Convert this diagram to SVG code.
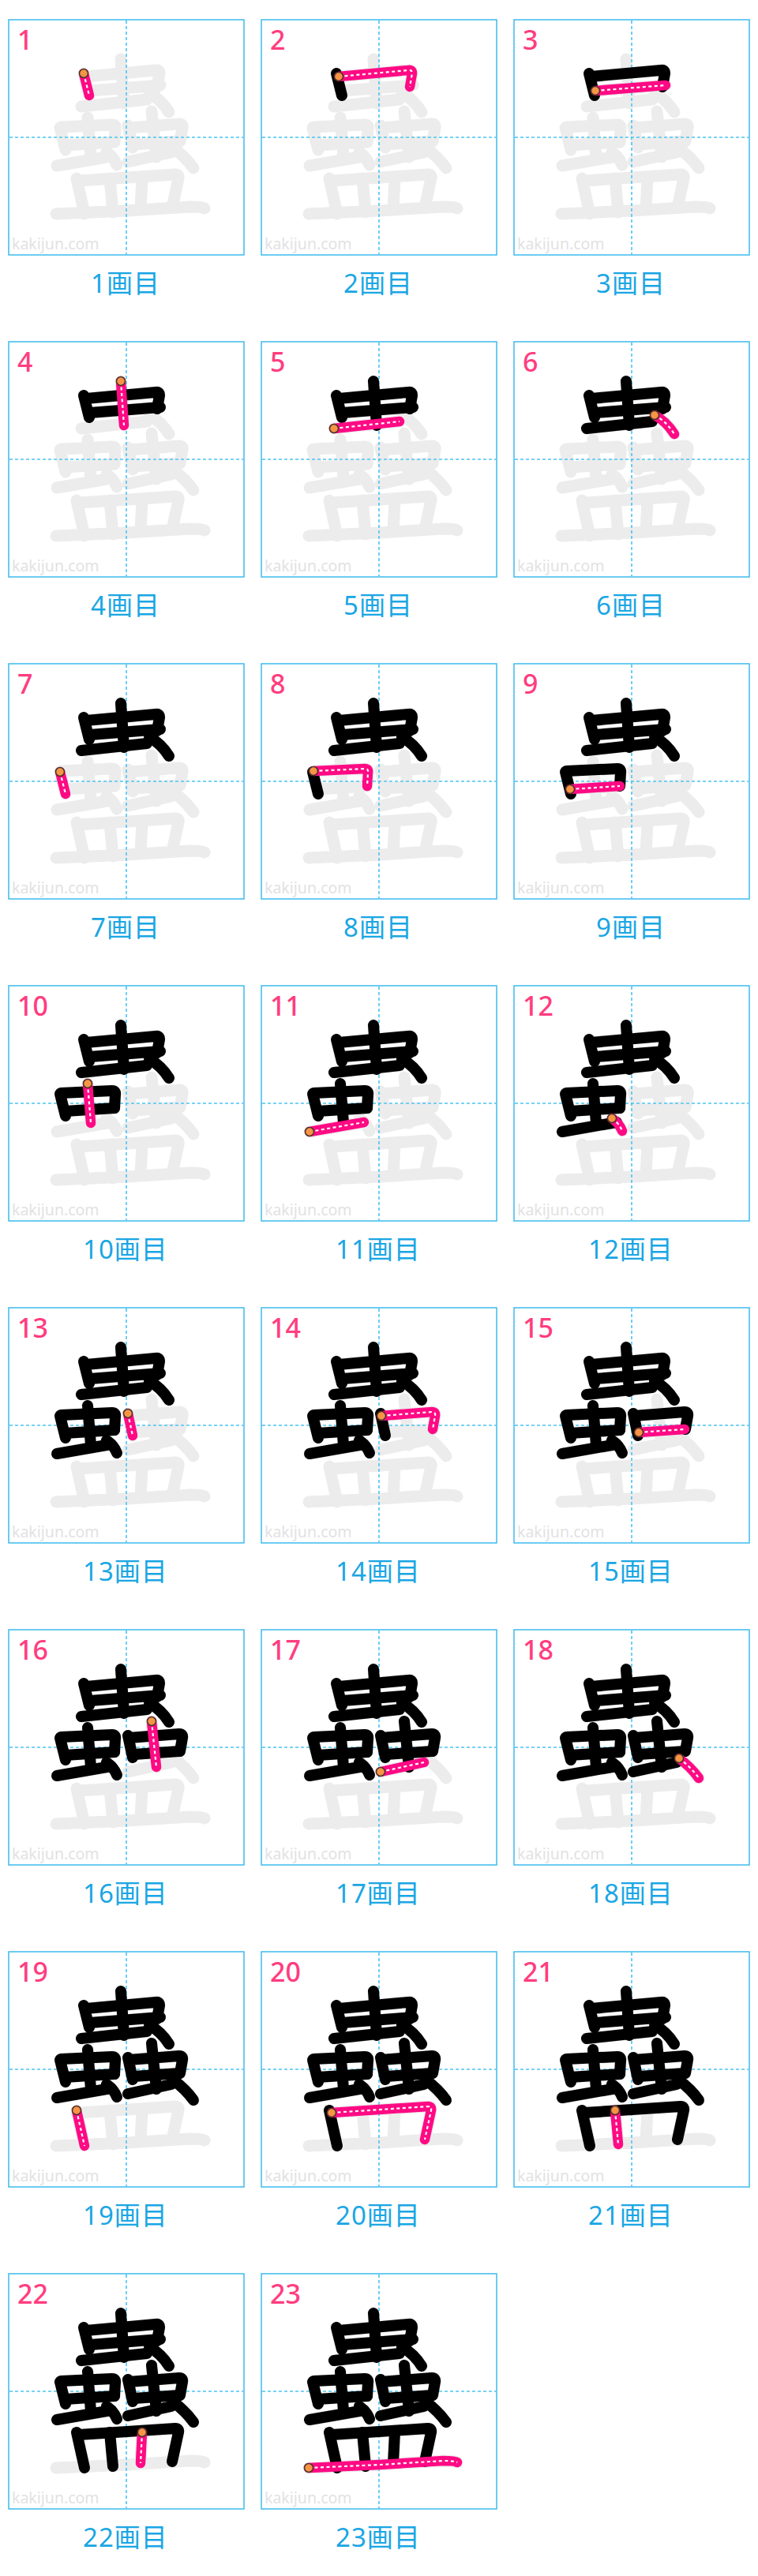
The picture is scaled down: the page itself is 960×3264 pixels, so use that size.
<svg xmlns="http://www.w3.org/2000/svg" xmlns:xlink="http://www.w3.org/1999/xlink" width="960" height="3264" viewBox="0 0 960 3264">
<style>
.fr{fill:none;stroke:#3dbbee;stroke-width:1.5}
.cl{stroke:#4cc3f2;stroke-width:1.6;stroke-dasharray:4 3}
.g{fill:none;stroke:#ececec;stroke-width:15;stroke-linecap:round;stroke-linejoin:round}
.k{fill:none;stroke:#000;stroke-width:14;stroke-linecap:round;stroke-linejoin:round}
.p{fill:none;stroke:#ff0a84;stroke-width:12.5;stroke-linecap:round;stroke-linejoin:round}
.d{fill:none;stroke:#fff;stroke-width:2.2;stroke-dasharray:4 3.5;stroke-linecap:butt;stroke-linejoin:round}
.dot{fill:#f79446;stroke:#4a3426;stroke-width:1.5}
.num{font-family:"Noto Sans","Liberation Sans",sans-serif;font-size:34px;font-weight:500;fill:#ff3d7f}
.wm{font-family:"Noto Sans","Liberation Sans",sans-serif;font-size:19.5px;fill:#e2e2e2}
.lb{font-family:"Noto Sans","Noto Sans CJK JP",sans-serif;font-size:33px;letter-spacing:1px;fill:#1aa6e4;text-anchor:middle}
</style>
<defs>
<g id="grid">
<rect x="0" y="0" width="298" height="298" class="fr"/>
<line x1="149" y1="1" x2="149" y2="297" class="cl"/>
<line x1="1" y1="149" x2="297" y2="149" class="cl"/>
</g>
<path id="s1" d="M95,68 L102,96"/>
<path id="s2" d="M98,72 L186,64 Q191,63 191,68 L188,85"/>
<path id="s3" d="M103,90 L192,83"/>
<path id="s4" d="M142,50 L146,106"/>
<path id="s5" d="M92,110 L175,101"/>
<path id="s6" d="M178,93 Q193,101 203,117"/>
<path id="s7" d="M65,137 L72,165"/>
<path id="s8" d="M66,136 L131,133 Q136,133 135,138 L134,155"/>
<path id="s9" d="M71,159 L134,155"/>
<path id="s10" d="M100,124 L104,174"/>
<path id="s11" d="M61,185 L130,173"/>
<path id="s12" d="M124,168 Q133,174 137,184"/>
<path id="s13" d="M151,134 L157,162"/>
<path id="s14" d="M152,137 L216,132 Q221,132 220,137 L217,154"/>
<path id="s15" d="M158,158 L216,154"/>
<path id="s16" d="M181,116 L187,174"/>
<path id="s17" d="M151,180 L206,168"/>
<path id="s18" d="M209,163 Q224,174 234,188"/>
<path id="s19" d="M86,201 L96,246"/>
<path id="s20" d="M89,204 L211,196 Q216,196 215,201 L207,238"/>
<path id="s21" d="M128,201 L132,244"/>
<path id="s22" d="M169,201 L167,240"/>
<path id="s23" d="M60,246 L150,242 L230,237 Q245,237 248,239"/>
<g id="c1"><use href="#s1"/></g>
<g id="c2"><use href="#c1"/><use href="#s2"/></g>
<g id="c3"><use href="#c2"/><use href="#s3"/></g>
<g id="c4"><use href="#c3"/><use href="#s4"/></g>
<g id="c5"><use href="#c4"/><use href="#s5"/></g>
<g id="c6"><use href="#c5"/><use href="#s6"/></g>
<g id="c7"><use href="#c6"/><use href="#s7"/></g>
<g id="c8"><use href="#c7"/><use href="#s8"/></g>
<g id="c9"><use href="#c8"/><use href="#s9"/></g>
<g id="c10"><use href="#c9"/><use href="#s10"/></g>
<g id="c11"><use href="#c10"/><use href="#s11"/></g>
<g id="c12"><use href="#c11"/><use href="#s12"/></g>
<g id="c13"><use href="#c12"/><use href="#s13"/></g>
<g id="c14"><use href="#c13"/><use href="#s14"/></g>
<g id="c15"><use href="#c14"/><use href="#s15"/></g>
<g id="c16"><use href="#c15"/><use href="#s16"/></g>
<g id="c17"><use href="#c16"/><use href="#s17"/></g>
<g id="c18"><use href="#c17"/><use href="#s18"/></g>
<g id="c19"><use href="#c18"/><use href="#s19"/></g>
<g id="c20"><use href="#c19"/><use href="#s20"/></g>
<g id="c21"><use href="#c20"/><use href="#s21"/></g>
<g id="c22"><use href="#c21"/><use href="#s22"/></g>
<g id="c23"><use href="#c22"/><use href="#s23"/></g>
<g id="base">
<rect x="0" y="0" width="298" height="298" fill="#fff"/>
<use href="#c23" class="g"/>
<use href="#grid"/>
<text x="4" y="291" class="wm">kakijun.com</text>
</g>
</defs>
<rect width="960" height="3264" fill="#fff"/>

<g id="step-1" transform="translate(11,25)"><use href="#base"/><use href="#s1" class="p"/><use href="#s1" class="d"/><circle cx="95" cy="68" r="5.5" class="dot"/><text x="11" y="38" class="num">1</text><text x="148" y="346" class="lb">1画目</text></g>
<g id="step-2" transform="translate(331,25)"><use href="#base"/><use href="#c1" class="k"/><use href="#s2" class="p"/><use href="#s2" class="d"/><circle cx="98" cy="72" r="5.5" class="dot"/><text x="11" y="38" class="num">2</text><text x="148" y="346" class="lb">2画目</text></g>
<g id="step-3" transform="translate(651,25)"><use href="#base"/><use href="#c2" class="k"/><use href="#s3" class="p"/><use href="#s3" class="d"/><circle cx="103" cy="90" r="5.5" class="dot"/><text x="11" y="38" class="num">3</text><text x="148" y="346" class="lb">3画目</text></g>

<g id="step-4" transform="translate(11,433)"><use href="#base"/><use href="#c3" class="k"/><use href="#s4" class="p"/><use href="#s4" class="d"/><circle cx="142" cy="50" r="5.5" class="dot"/><text x="11" y="38" class="num">4</text><text x="148" y="346" class="lb">4画目</text></g>
<g id="step-5" transform="translate(331,433)"><use href="#base"/><use href="#c4" class="k"/><use href="#s5" class="p"/><use href="#s5" class="d"/><circle cx="92" cy="110" r="5.5" class="dot"/><text x="11" y="38" class="num">5</text><text x="148" y="346" class="lb">5画目</text></g>
<g id="step-6" transform="translate(651,433)"><use href="#base"/><use href="#c5" class="k"/><use href="#s6" class="p"/><use href="#s6" class="d"/><circle cx="178" cy="93" r="5.5" class="dot"/><text x="11" y="38" class="num">6</text><text x="148" y="346" class="lb">6画目</text></g>

<g id="step-7" transform="translate(11,841)"><use href="#base"/><use href="#c6" class="k"/><use href="#s7" class="p"/><use href="#s7" class="d"/><circle cx="65" cy="137" r="5.5" class="dot"/><text x="11" y="38" class="num">7</text><text x="148" y="346" class="lb">7画目</text></g>
<g id="step-8" transform="translate(331,841)"><use href="#base"/><use href="#c7" class="k"/><use href="#s8" class="p"/><use href="#s8" class="d"/><circle cx="66" cy="136" r="5.5" class="dot"/><text x="11" y="38" class="num">8</text><text x="148" y="346" class="lb">8画目</text></g>
<g id="step-9" transform="translate(651,841)"><use href="#base"/><use href="#c8" class="k"/><use href="#s9" class="p"/><use href="#s9" class="d"/><circle cx="71" cy="159" r="5.5" class="dot"/><text x="11" y="38" class="num">9</text><text x="148" y="346" class="lb">9画目</text></g>

<g id="step-10" transform="translate(11,1249)"><use href="#base"/><use href="#c9" class="k"/><use href="#s10" class="p"/><use href="#s10" class="d"/><circle cx="100" cy="124" r="5.5" class="dot"/><text x="11" y="38" class="num">10</text><text x="148" y="346" class="lb">10画目</text></g>
<g id="step-11" transform="translate(331,1249)"><use href="#base"/><use href="#c10" class="k"/><use href="#s11" class="p"/><use href="#s11" class="d"/><circle cx="61" cy="185" r="5.5" class="dot"/><text x="11" y="38" class="num">11</text><text x="148" y="346" class="lb">11画目</text></g>
<g id="step-12" transform="translate(651,1249)"><use href="#base"/><use href="#c11" class="k"/><use href="#s12" class="p"/><use href="#s12" class="d"/><circle cx="124" cy="168" r="5.5" class="dot"/><text x="11" y="38" class="num">12</text><text x="148" y="346" class="lb">12画目</text></g>

<g id="step-13" transform="translate(11,1657)"><use href="#base"/><use href="#c12" class="k"/><use href="#s13" class="p"/><use href="#s13" class="d"/><circle cx="151" cy="134" r="5.5" class="dot"/><text x="11" y="38" class="num">13</text><text x="148" y="346" class="lb">13画目</text></g>
<g id="step-14" transform="translate(331,1657)"><use href="#base"/><use href="#c13" class="k"/><use href="#s14" class="p"/><use href="#s14" class="d"/><circle cx="152" cy="137" r="5.5" class="dot"/><text x="11" y="38" class="num">14</text><text x="148" y="346" class="lb">14画目</text></g>
<g id="step-15" transform="translate(651,1657)"><use href="#base"/><use href="#c14" class="k"/><use href="#s15" class="p"/><use href="#s15" class="d"/><circle cx="158" cy="158" r="5.5" class="dot"/><text x="11" y="38" class="num">15</text><text x="148" y="346" class="lb">15画目</text></g>

<g id="step-16" transform="translate(11,2065)"><use href="#base"/><use href="#c15" class="k"/><use href="#s16" class="p"/><use href="#s16" class="d"/><circle cx="181" cy="116" r="5.5" class="dot"/><text x="11" y="38" class="num">16</text><text x="148" y="346" class="lb">16画目</text></g>
<g id="step-17" transform="translate(331,2065)"><use href="#base"/><use href="#c16" class="k"/><use href="#s17" class="p"/><use href="#s17" class="d"/><circle cx="151" cy="180" r="5.5" class="dot"/><text x="11" y="38" class="num">17</text><text x="148" y="346" class="lb">17画目</text></g>
<g id="step-18" transform="translate(651,2065)"><use href="#base"/><use href="#c17" class="k"/><use href="#s18" class="p"/><use href="#s18" class="d"/><circle cx="209" cy="163" r="5.5" class="dot"/><text x="11" y="38" class="num">18</text><text x="148" y="346" class="lb">18画目</text></g>

<g id="step-19" transform="translate(11,2473)"><use href="#base"/><use href="#c18" class="k"/><use href="#s19" class="p"/><use href="#s19" class="d"/><circle cx="86" cy="201" r="5.5" class="dot"/><text x="11" y="38" class="num">19</text><text x="148" y="346" class="lb">19画目</text></g>
<g id="step-20" transform="translate(331,2473)"><use href="#base"/><use href="#c19" class="k"/><use href="#s20" class="p"/><use href="#s20" class="d"/><circle cx="89" cy="204" r="5.5" class="dot"/><text x="11" y="38" class="num">20</text><text x="148" y="346" class="lb">20画目</text></g>
<g id="step-21" transform="translate(651,2473)"><use href="#base"/><use href="#c20" class="k"/><use href="#s21" class="p"/><use href="#s21" class="d"/><circle cx="128" cy="201" r="5.5" class="dot"/><text x="11" y="38" class="num">21</text><text x="148" y="346" class="lb">21画目</text></g>

<g id="step-22" transform="translate(11,2881)"><use href="#base"/><use href="#c21" class="k"/><use href="#s22" class="p"/><use href="#s22" class="d"/><circle cx="169" cy="201" r="5.5" class="dot"/><text x="11" y="38" class="num">22</text><text x="148" y="346" class="lb">22画目</text></g>
<g id="step-23" transform="translate(331,2881)"><use href="#base"/><use href="#c22" class="k"/><use href="#s23" class="p"/><use href="#s23" class="d"/><circle cx="60" cy="246" r="5.5" class="dot"/><text x="11" y="38" class="num">23</text><text x="148" y="346" class="lb">23画目</text></g>

<g id="connectors"></g>
</svg>
